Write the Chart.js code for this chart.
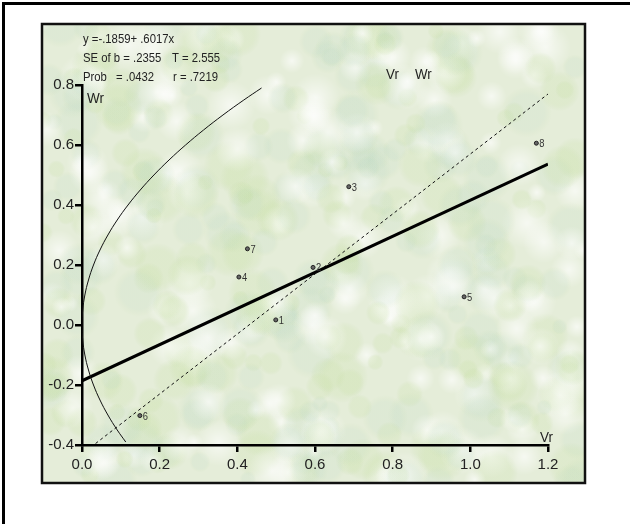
<!DOCTYPE html>
<html>
<head>
<meta charset="utf-8">
<script src="https://cdn.jsdelivr.net/npm/chart.js@4/dist/chart.umd.min.js"></script>
<style>
  body { margin: 0; background: #fff; }
  canvas { display: block; }
</style>
</head>
<body>
<canvas id="vrwr" width="630" height="524"></canvas>
<script>
// Vr / Wr graph: array points, regression line, unit-slope line and limiting parabola
const arrayLabels = ['1', '2', '3', '4', '5', '6', '7', '8'];
const vrValues = [0.499, 0.595, 0.687, 0.404, 0.984, 0.149, 0.426, 1.170];
const wrValues = [0.017, 0.192, 0.461, 0.160, 0.094, -0.302, 0.254, 0.606];

const intercept = -0.1859;
const slope = 0.6017;
const regressionX = [0, 1.2];

// unit slope line through the means
const unitLineVr = [0.035, 1.2];
const unitLineWr = [-0.395, 0.770];

// limiting parabola read along its length
const parabolaVr = [0.1127, 0.0907, 0.0667, 0.0463, 0.0296, 0.0167, 0.0074, 0.0019, 0,
  0.0019, 0.0074, 0.0167, 0.0296, 0.0463, 0.0667, 0.0907, 0.1185, 0.150, 0.1852,
  0.2241, 0.2667, 0.313, 0.363, 0.4167, 0.4623];
const parabolaWr = [-0.39, -0.35, -0.30, -0.25, -0.20, -0.15, -0.10, -0.05, 0,
  0.05, 0.10, 0.15, 0.20, 0.25, 0.30, 0.35, 0.40, 0.45, 0.50,
  0.55, 0.60, 0.65, 0.70, 0.75, 0.79];

const statLines = [
  ['y =-.1859+ .6017x'],
  ['SE of b = .2355', 'T = 2.555'],
  ['Prob', '= .0432', 'r = .7219']
];
const xTickMin = 0, xTickMax = 1.2;
const yTickMin = -0.4, yTickMax = 0.8;

const FONT = '"Liberation Sans", Arial, sans-serif';

function pts(xs, ys) {
  return xs.map((x, i) => ({ x: x, y: ys[i] }));
}

// text squeezed sideways, the plot used a condensed face
function narrowText(ctx, text, x, y, size, squeeze) {
  ctx.save();
  ctx.translate(x, y);
  ctx.scale(squeeze, 1);
  ctx.font = size + 'px ' + FONT;
  ctx.fillText(text, 0, 0);
  ctx.restore();
}

// leafy backdrop inside the inner frame
function drawPanel(ctx, x, y, w, h) {
  ctx.save();
  ctx.beginPath();
  ctx.rect(x, y, w, h);
  ctx.clip();
  ctx.fillStyle = '#e5edd9';
  ctx.fillRect(x, y, w, h);
  const greens = ['rgba(175,208,130,0.16)', 'rgba(200,224,165,0.22)', 'rgba(180,212,190,0.15)'];
  for (let i = 0; i < 520; i++) {
    const hx = Math.abs(Math.sin(i * 12.9898) * 43758.5453) % 1;
    const hy = Math.abs(Math.sin(i * 78.233) * 12345.678) % 1;
    const hr = Math.abs(Math.sin(i * 3.71) * 9876.54) % 1;
    const cx = x + hx * w, cy = y + hy * h, r = 8 + hr * 18;
    const g = ctx.createRadialGradient(cx, cy, 0, cx, cy, r);
    if (i % 3 === 0) {
      g.addColorStop(0, 'rgba(255,255,255,0.65)');
      g.addColorStop(1, 'rgba(255,255,255,0)');
    } else {
      g.addColorStop(0, greens[i % greens.length]);
      g.addColorStop(0.7, greens[i % greens.length]);
      g.addColorStop(1, 'rgba(185,212,150,0)');
    }
    ctx.fillStyle = g;
    ctx.beginPath();
    ctx.ellipse(cx, cy, r * 1.3, r, hr * 3, 0, Math.PI * 2);
    ctx.fill();
  }
  ctx.restore();
}

const framePlugin = {
  id: 'frame',
  beforeDraw(chart) {
    const ctx = chart.ctx;
    ctx.save();
    ctx.fillStyle = '#fff';
    ctx.fillRect(0, 0, chart.width, chart.height);
    // outer box, its right and bottom sides run off the page
    ctx.strokeStyle = '#000';
    ctx.lineWidth = 3;
    ctx.beginPath();
    ctx.moveTo(3.5, chart.height + 5);
    ctx.lineTo(3.5, 3.5);
    ctx.lineTo(chart.width + 5, 3.5);
    ctx.stroke();
    drawPanel(ctx, 42, 24, 543, 459);
    ctx.lineWidth = 2.5;
    ctx.strokeStyle = '#111';
    ctx.strokeRect(42, 24, 543, 459);
    ctx.restore();
  },
  afterDraw(chart) {
    const ctx = chart.ctx;
    const xs = chart.scales.x, ys = chart.scales.y;
    ctx.save();
    // array numbers beside each point
    ctx.fillStyle = '#333';
    ctx.textBaseline = 'middle';
    arrayLabels.forEach((lab, i) => {
      narrowText(ctx, lab, xs.getPixelForValue(vrValues[i]) + 3, ys.getPixelForValue(wrValues[i]) + 1, 11, 0.85);
    });
    // regression statistics
    ctx.fillStyle = '#222';
    ctx.textBaseline = 'alphabetic';
    narrowText(ctx, statLines[0][0], 83, 43, 13, 0.87);
    narrowText(ctx, statLines[1][0], 83, 62, 13, 0.87);
    narrowText(ctx, statLines[1][1], 172, 62, 13, 0.87);
    narrowText(ctx, statLines[2][0], 83, 81, 13, 0.87);
    narrowText(ctx, statLines[2][1], 116, 81, 13, 0.87);
    narrowText(ctx, statLines[2][2], 173, 81, 13, 0.87);
    narrowText(ctx, 'Vr', 386, 79, 14, 0.95);
    narrowText(ctx, 'Wr', 415, 79, 14, 0.95);
    // axis names
    narrowText(ctx, 'Wr', 87, 103, 15, 0.9);
    narrowText(ctx, 'Vr', 540, 442, 15, 0.9);
    ctx.restore();
  }
};

const axisStyle = {
  type: 'linear',
  border: { display: true, color: '#000', width: 2.5 },
  grid: { drawOnChartArea: false, drawTicks: true, tickLength: 7, color: '#000', lineWidth: 2.5 },
};

new Chart(document.getElementById('vrwr'), {
  type: 'scatter',
  data: {
    datasets: [
      {
        label: 'parabola',
        type: 'line',
        data: pts(parabolaVr, parabolaWr),
        borderColor: '#111',
        borderWidth: 1,
        pointRadius: 0,
        tension: 0.4,
        fill: false
      },
      {
        label: 'unit slope',
        type: 'line',
        data: pts(unitLineVr, unitLineWr),
        borderColor: '#111',
        borderWidth: 1,
        borderDash: [3, 3],
        pointRadius: 0,
        fill: false
      },
      {
        label: 'regression',
        type: 'line',
        data: regressionX.map(x => ({ x: x, y: intercept + slope * x })),
        borderColor: '#000',
        borderWidth: 3,
        pointRadius: 0,
        fill: false
      },
      {
        label: 'arrays',
        data: pts(vrValues, wrValues),
        pointRadius: 2,
        backgroundColor: '#666',
        borderColor: '#222',
        borderWidth: 1
      }
    ]
  },
  options: {
    responsive: false,
    animation: false,
    layout: { padding: { left: 0, top: 85, right: 82, bottom: 0 } },
    plugins: { legend: { display: false }, tooltip: { enabled: false } },
    scales: {
      x: Object.assign({}, axisStyle, {
        min: xTickMin, max: xTickMax,
        afterFit(s) { s.height = 79; },
        ticks: {
          stepSize: 0.2, padding: 4, color: '#222',
          font: { family: FONT, size: 15 },
          callback: v => v.toFixed(1)
        }
      }),
      y: Object.assign({}, axisStyle, {
        min: yTickMin, max: yTickMax,
        afterFit(s) { s.width = 82; },
        ticks: {
          stepSize: 0.2, padding: 1, color: '#222',
          font: { family: FONT, size: 15 },
          callback: v => v.toFixed(1)
        }
      })
    }
  },
  plugins: [framePlugin]
});
</script>
</body>
</html>
